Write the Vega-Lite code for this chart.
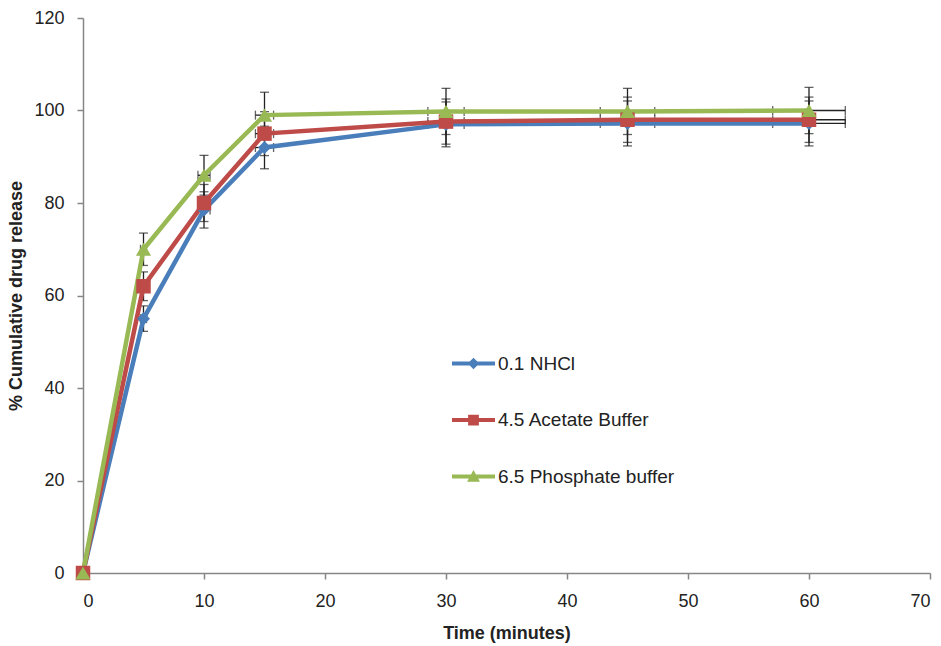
{
  "$schema": "https://vega.github.io/schema/vega-lite/v6.json",
  "width": 847,
  "height": 555,
  "autosize": {"type": "none"},
  "padding": {"left": 83, "top": 18, "right": 11, "bottom": 73},
  "background": "white",
  "config": {
    "view": {"stroke": null},
    "font": "Liberation Sans",
    "axis": {
      "grid": false,
      "domainColor": "#868686",
      "domainWidth": 1.5,
      "tickColor": "#868686",
      "tickWidth": 1.5,
      "tickSize": 6,
      "labelFont": "Liberation Sans",
      "labelFontSize": 18,
      "labelColor": "#222222",
      "titleFont": "Liberation Sans",
      "titleFontSize": 18,
      "titleFontWeight": "bold",
      "titleColor": "#222222"
    }
  },
  "data": {
    "values": [
      {"series": "0.1 NHCl", "t": 0, "y": 0, "ylo": 0, "yhi": 0, "xlo": 0, "xhi": 0},
      {"series": "0.1 NHCl", "t": 5, "y": 55, "ylo": 52.25, "yhi": 57.75, "xlo": 4.75, "xhi": 5.25},
      {"series": "0.1 NHCl", "t": 10, "y": 78.5, "ylo": 74.58, "yhi": 82.43, "xlo": 9.5, "xhi": 10.5},
      {"series": "0.1 NHCl", "t": 15, "y": 92, "ylo": 87.4, "yhi": 96.6, "xlo": 14.25, "xhi": 15.75},
      {"series": "0.1 NHCl", "t": 30, "y": 97, "ylo": 92.15, "yhi": 101.85, "xlo": 28.5, "xhi": 31.5},
      {"series": "0.1 NHCl", "t": 45, "y": 97.2, "ylo": 92.34, "yhi": 102.06, "xlo": 42.75, "xhi": 47.25},
      {"series": "0.1 NHCl", "t": 60, "y": 97.2, "ylo": 92.34, "yhi": 102.06, "xlo": 57, "xhi": 63},
      {"series": "4.5 Acetate Buffer", "t": 0, "y": 0, "ylo": 0, "yhi": 0, "xlo": 0, "xhi": 0},
      {"series": "4.5 Acetate Buffer", "t": 5, "y": 62, "ylo": 58.9, "yhi": 65.1, "xlo": 4.75, "xhi": 5.25},
      {"series": "4.5 Acetate Buffer", "t": 10, "y": 80, "ylo": 76, "yhi": 84, "xlo": 9.5, "xhi": 10.5},
      {"series": "4.5 Acetate Buffer", "t": 15, "y": 95, "ylo": 90.25, "yhi": 99.75, "xlo": 14.25, "xhi": 15.75},
      {"series": "4.5 Acetate Buffer", "t": 30, "y": 97.6, "ylo": 92.72, "yhi": 102.48, "xlo": 28.5, "xhi": 31.5},
      {"series": "4.5 Acetate Buffer", "t": 45, "y": 98, "ylo": 93.1, "yhi": 102.9, "xlo": 42.75, "xhi": 47.25},
      {"series": "4.5 Acetate Buffer", "t": 60, "y": 98, "ylo": 93.1, "yhi": 102.9, "xlo": 57, "xhi": 63},
      {"series": "6.5 Phosphate buffer", "t": 0, "y": 0, "ylo": 0, "yhi": 0, "xlo": 0, "xhi": 0},
      {"series": "6.5 Phosphate buffer", "t": 5, "y": 70, "ylo": 66.5, "yhi": 73.5, "xlo": 4.75, "xhi": 5.25},
      {"series": "6.5 Phosphate buffer", "t": 10, "y": 86, "ylo": 81.7, "yhi": 90.3, "xlo": 9.5, "xhi": 10.5},
      {"series": "6.5 Phosphate buffer", "t": 15, "y": 99, "ylo": 94.05, "yhi": 103.95, "xlo": 14.25, "xhi": 15.75},
      {"series": "6.5 Phosphate buffer", "t": 30, "y": 99.8, "ylo": 94.81, "yhi": 104.79, "xlo": 28.5, "xhi": 31.5},
      {"series": "6.5 Phosphate buffer", "t": 45, "y": 99.8, "ylo": 94.81, "yhi": 104.79, "xlo": 42.75, "xhi": 47.25},
      {"series": "6.5 Phosphate buffer", "t": 60, "y": 100, "ylo": 95, "yhi": 105, "xlo": 57, "xhi": 63}
    ]
  },
  "layer": [
    {
      "mark": {"type": "errorbar", "ticks": {"size": 9, "color": "#222222", "thickness": 1.3}, "color": "#222222", "thickness": 1.3},
      "encoding": {
        "x": {"field": "t", "type": "quantitative", "title": "Time (minutes)", "scale": {"domain": [0, 70], "nice": false}},
        "y": {"field": "ylo", "type": "quantitative", "title": "% Cumulative drug release", "scale": {"domain": [0, 120], "nice": false}},
        "y2": {"field": "yhi"}
      }
    },
    {
      "mark": {"type": "errorbar", "ticks": {"size": 9, "color": "#222222", "thickness": 1.3}, "color": "#222222", "thickness": 1.3},
      "encoding": {
        "y": {"field": "y", "type": "quantitative", "title": "% Cumulative drug release"},
        "x": {"field": "xlo", "type": "quantitative", "title": "Time (minutes)"},
        "x2": {"field": "xhi"}
      }
    },
    {
      "mark": {"type": "line", "strokeWidth": 4.5},
      "encoding": {
        "x": {
          "field": "t", "type": "quantitative",
          "scale": {"domain": [0, 70], "nice": false},
          "title": "Time (minutes)",
          "axis": {"values": [0, 10, 20, 30, 40, 50, 60, 70], "labelPadding": 13, "titlePadding": 14}
        },
        "y": {
          "field": "y", "type": "quantitative",
          "scale": {"domain": [0, 120], "nice": false},
          "title": "% Cumulative drug release",
          "axis": {"values": [0, 20, 40, 60, 80, 100, 120], "labelPadding": 13, "titlePadding": 8}
        },
        "color": {
          "field": "series", "type": "nominal",
          "scale": {"domain": ["0.1 NHCl", "4.5 Acetate Buffer", "6.5 Phosphate buffer"], "range": ["#4a7ebb", "#be4b48", "#98b954"]},
          "legend": {
            "title": null,
            "orient": "none",
            "legendX": 369,
            "legendY": 324,
            "padding": 0,
            "symbolSize": 1849,
            "symbolStrokeWidth": 0,
            "rowPadding": 24.5,
            "labelOffset": 3,
            "labelLimit": 400,
            "labelFont": "Liberation Sans",
            "labelFontSize": 19,
            "labelColor": "#222222",
            "encode": {
              "symbols": {
                "update": {
                  "shape": {"signal": "datum.value === '0.1 NHCl' ? 'M-1,-0.09L1,-0.09L1,0.09L-1,0.09Z M0,-0.27L0.27,0L0,0.27L-0.27,0Z' : (datum.value === '4.5 Acetate Buffer' ? 'M-1,-0.09L1,-0.09L1,0.09L-1,0.09Z M-0.25,-0.25L0.25,-0.25L0.25,0.25L-0.25,0.25Z' : 'M-1,-0.09L1,-0.09L1,0.09L-1,0.09Z M0,-0.3L0.3,0.24L-0.3,0.24Z')"},
                  "fill": {"signal": "scale('color', datum.value)"},
                  "stroke": {"value": "transparent"},
                  "strokeWidth": {"value": 0},
                  "size": {"value": 1849},
                  "opacity": {"value": 1}
                }
              }
            }
          }
        }
      }
    },
    {
      "transform": [{"filter": "datum.series === '0.1 NHCl'"}],
      "mark": {"type": "point", "shape": "diamond", "filled": true, "opacity": 1, "size": 170, "color": "#4a7ebb"},
      "encoding": {
        "x": {"field": "t", "type": "quantitative"},
        "y": {"field": "y", "type": "quantitative"}
      }
    },
    {
      "transform": [{"filter": "datum.series === '4.5 Acetate Buffer'"}],
      "mark": {"type": "point", "shape": "square", "filled": true, "opacity": 1, "size": 210, "color": "#be4b48"},
      "encoding": {
        "x": {"field": "t", "type": "quantitative"},
        "y": {"field": "y", "type": "quantitative"}
      }
    },
    {
      "transform": [{"filter": "datum.series === '6.5 Phosphate buffer'"}],
      "mark": {"type": "point", "shape": "triangle-up", "filled": true, "opacity": 1, "size": 230, "color": "#98b954"},
      "encoding": {
        "x": {"field": "t", "type": "quantitative"},
        "y": {"field": "y", "type": "quantitative"}
      }
    }
  ]
}
